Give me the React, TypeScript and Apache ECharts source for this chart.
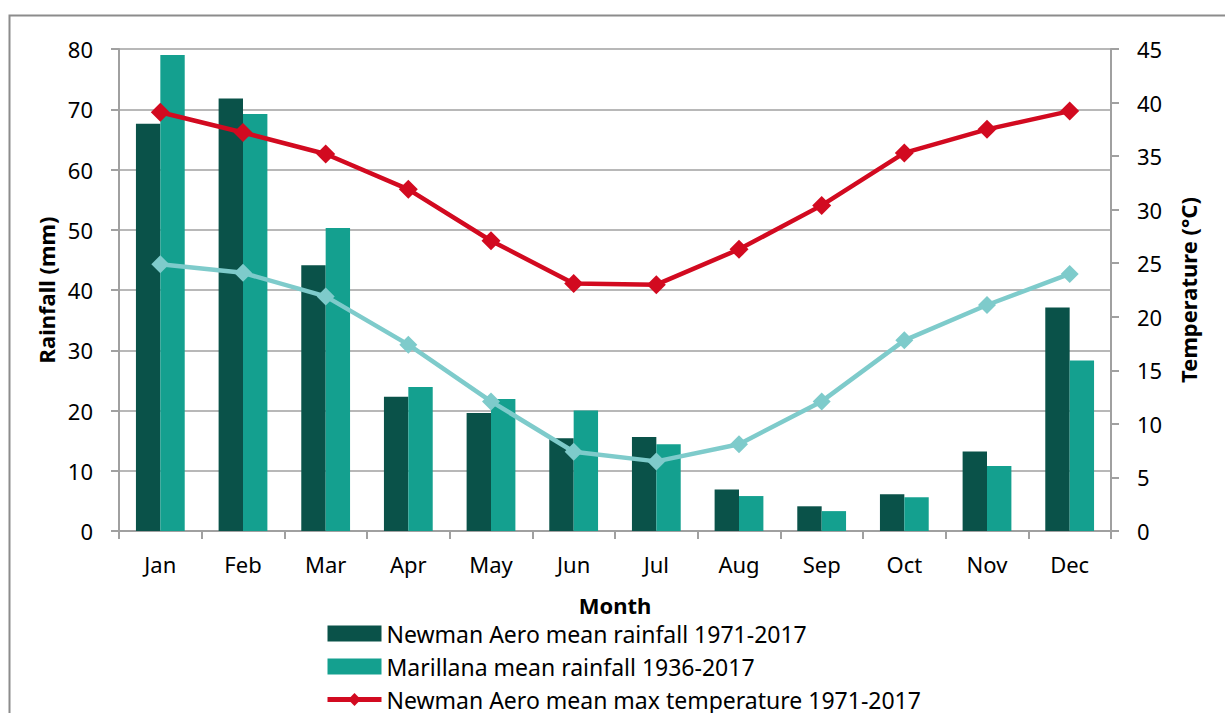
import React, { useEffect, useRef } from "react";
import * as echarts from "echarts";

const months = ["Jan", "Feb", "Mar", "Apr", "May", "Jun", "Jul", "Aug", "Sep", "Oct", "Nov", "Dec"];
const newmanRain = [67.6, 71.8, 44.1, 22.3, 19.6, 15.4, 15.6, 6.9, 4.1, 6.1, 13.2, 37.1];
const marillanaRain = [79.0, 69.2, 50.3, 23.9, 21.9, 20.0, 14.4, 5.8, 3.3, 5.6, 10.8, 28.3];
const newmanMaxT = [39.1, 37.2, 35.2, 31.9, 27.1, 23.1, 23.0, 26.3, 30.4, 35.3, 37.5, 39.2];
const newmanMinT = [24.9, 24.1, 21.9, 17.4, 12.1, 7.4, 6.5, 8.1, 12.1, 17.8, 21.1, 24.0];

const seriesNames = [
  "Newman Aero mean rainfall 1971-2017",
  "Marillana mean rainfall 1936-2017",
  "Newman Aero mean max temperature 1971-2017",
  "Newman Aero mean min temperature 1971-2017",
];

const FONT = "'Noto Sans', sans-serif";
const GRAY = "#a0a0a0";

export default function App() {
  const ref = useRef<HTMLDivElement>(null);
  useEffect(() => {
    if (!ref.current) return;
    const chart = echarts.init(ref.current, null, { renderer: "svg" });
    chart.setOption({
      animation: false,
      backgroundColor: "#ffffff",
      textStyle: { fontFamily: FONT },
      graphic: [
        {
          type: "rect",
          left: 7,
          top: 13,
          shape: { width: 1400, height: 900 },
          style: { fill: "none", stroke: "#8c8c8c", lineWidth: 2 },
          silent: true,
          z: -10,
        },
      ],
      grid: { left: 119, right: 114, top: 49, bottom: 182 },
      legend: {
        orient: "vertical",
        left: 320,
        top: 617,
        height: 200,
        itemWidth: 54,
        itemHeight: 16,
        itemGap: 10,
        lineStyle: { width: 5 },
        // the fourth entry lies below the visible picture in the reference
        data: [
          { name: seriesNames[0], icon: "rect" },
          { name: seriesNames[1], icon: "rect" },
          { name: seriesNames[2] },
        ],
        textStyle: { fontFamily: FONT, fontSize: 23, color: "#000" },
      },
      xAxis: {
        type: "category",
        data: months,
        name: "Month",
        nameLocation: "middle",
        nameGap: 63,
        nameTextStyle: { fontFamily: FONT, fontSize: 22, fontWeight: "bold", color: "#000" },
        axisLine: { show: true, lineStyle: { color: GRAY, width: 2 } },
        axisTick: { show: true, length: 8, lineStyle: { color: GRAY, width: 2 } },
        axisLabel: { fontFamily: FONT, fontSize: 22, color: "#000", margin: 22 },
      },
      yAxis: [
        {
          type: "value",
          min: 0,
          max: 80,
          interval: 10,
          name: "Rainfall (mm)",
          nameLocation: "middle",
          nameGap: 61,
          nameRotate: 90,
          nameTextStyle: { fontFamily: FONT, fontSize: 22, fontWeight: "bold", color: "#000" },
          axisLine: { show: true, lineStyle: { color: GRAY, width: 2 } },
          axisTick: { show: true, length: 8, lineStyle: { color: GRAY, width: 2 } },
          axisLabel: { fontFamily: FONT, fontSize: 22, color: "#000", margin: 26 },
          splitLine: { show: true, lineStyle: { color: GRAY, width: 1.5 } },
        },
        {
          type: "value",
          min: 0,
          max: 45,
          interval: 5,
          position: "right",
          name: "Temperature (°C)",
          nameLocation: "middle",
          nameGap: 66,
          nameRotate: 90,
          nameTextStyle: { fontFamily: FONT, fontSize: 22, fontWeight: "bold", color: "#000" },
          axisLine: { show: true, lineStyle: { color: GRAY, width: 2 } },
          axisTick: { show: true, length: 8, lineStyle: { color: GRAY, width: 2 } },
          axisLabel: { fontFamily: FONT, fontSize: 22, color: "#000", margin: 26 },
          splitLine: { show: false },
        },
      ],
      series: [
        {
          name: seriesNames[0],
          type: "bar",
          data: newmanRain,
          yAxisIndex: 0,
          barGap: "0%",
          barCategoryGap: "41%",
          itemStyle: { color: "#0a5249" },
        },
        {
          name: seriesNames[1],
          type: "bar",
          data: marillanaRain,
          yAxisIndex: 0,
          itemStyle: { color: "#14a08f" },
        },
        {
          name: seriesNames[2],
          type: "line",
          data: newmanMaxT,
          yAxisIndex: 1,
          symbol: "diamond",
          symbolSize: 19,
          lineStyle: { color: "#d20a20", width: 4.5 },
          itemStyle: { color: "#d20a20" },
        },
        {
          name: seriesNames[3],
          type: "line",
          data: newmanMinT,
          yAxisIndex: 1,
          symbol: "diamond",
          symbolSize: 18,
          lineStyle: { color: "#7ecbcb", width: 4.5 },
          itemStyle: { color: "#7ecbcb" },
        },
      ],
    });
    return () => chart.dispose();
  }, []);
  return (
    <div
      ref={ref}
      style={{ position: "fixed", left: 0, top: 0, width: 1225, height: 713, background: "#fff" }}
    />
  );
}
